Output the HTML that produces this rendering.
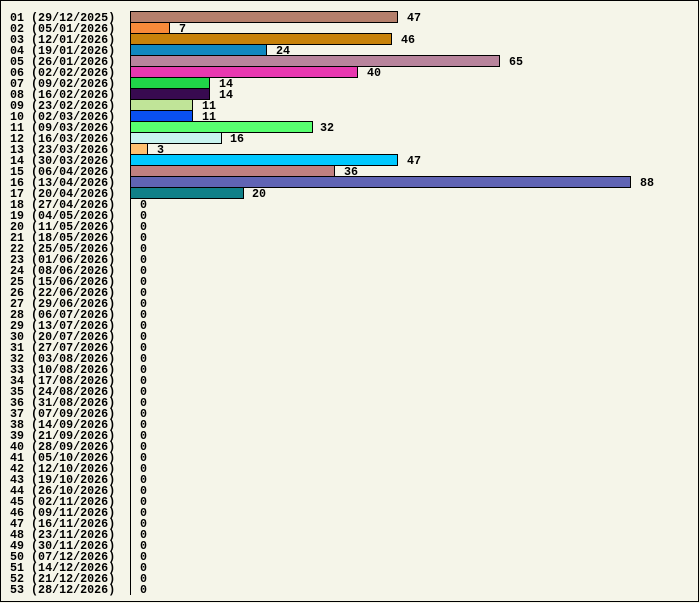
<!DOCTYPE html>
<html><head><meta charset="utf-8"><style>
html,body{margin:0;padding:0;background:#f5f5e9;}
svg{display:block;}
text{font-family:"Liberation Mono",monospace;font-weight:bold;font-size:11.7px;fill:#000;}
</style></head><body>
<svg width="700" height="603" viewBox="0 0 700 603" xmlns="http://www.w3.org/2000/svg">
<rect x="0.5" y="0.5" width="698" height="601" fill="#f5f5e9" stroke="#000" stroke-width="1"/>
<line x1="130.5" y1="11" x2="130.5" y2="595" stroke="#000" stroke-width="1"/>
<g stroke="#000" stroke-width="1">
<rect x="130.5" y="11.5" width="267" height="11" fill="#b5806c"/>
<rect x="130.5" y="22.5" width="39" height="11" fill="#f88a3a"/>
<rect x="130.5" y="33.5" width="261" height="11" fill="#c8820a"/>
<rect x="130.5" y="44.5" width="136" height="11" fill="#1088c0"/>
<rect x="130.5" y="55.5" width="369" height="11" fill="#b8849c"/>
<rect x="130.5" y="66.5" width="227" height="11" fill="#e838b0"/>
<rect x="130.5" y="77.5" width="79" height="11" fill="#20d448"/>
<rect x="130.5" y="88.5" width="79" height="11" fill="#380a50"/>
<rect x="130.5" y="99.5" width="62" height="11" fill="#c0e498"/>
<rect x="130.5" y="110.5" width="62" height="11" fill="#0a50f0"/>
<rect x="130.5" y="121.5" width="182" height="11" fill="#58ff70"/>
<rect x="130.5" y="132.5" width="91" height="11" fill="#c8f4f0"/>
<rect x="130.5" y="143.5" width="17" height="11" fill="#ffc070"/>
<rect x="130.5" y="154.5" width="267" height="11" fill="#00c8ff"/>
<rect x="130.5" y="165.5" width="204" height="11" fill="#c08080"/>
<rect x="130.5" y="176.5" width="500" height="11" fill="#6064b4"/>
<rect x="130.5" y="187.5" width="113" height="11" fill="#108088"/>
</g>
<g>
<text x="10" y="21">01 (29/12/2025)</text>
<text x="10" y="32">02 (05/01/2026)</text>
<text x="10" y="43">03 (12/01/2026)</text>
<text x="10" y="54">04 (19/01/2026)</text>
<text x="10" y="65">05 (26/01/2026)</text>
<text x="10" y="76">06 (02/02/2026)</text>
<text x="10" y="87">07 (09/02/2026)</text>
<text x="10" y="98">08 (16/02/2026)</text>
<text x="10" y="109">09 (23/02/2026)</text>
<text x="10" y="120">10 (02/03/2026)</text>
<text x="10" y="131">11 (09/03/2026)</text>
<text x="10" y="142">12 (16/03/2026)</text>
<text x="10" y="153">13 (23/03/2026)</text>
<text x="10" y="164">14 (30/03/2026)</text>
<text x="10" y="175">15 (06/04/2026)</text>
<text x="10" y="186">16 (13/04/2026)</text>
<text x="10" y="197">17 (20/04/2026)</text>
<text x="10" y="208">18 (27/04/2026)</text>
<text x="10" y="219">19 (04/05/2026)</text>
<text x="10" y="230">20 (11/05/2026)</text>
<text x="10" y="241">21 (18/05/2026)</text>
<text x="10" y="252">22 (25/05/2026)</text>
<text x="10" y="263">23 (01/06/2026)</text>
<text x="10" y="274">24 (08/06/2026)</text>
<text x="10" y="285">25 (15/06/2026)</text>
<text x="10" y="296">26 (22/06/2026)</text>
<text x="10" y="307">27 (29/06/2026)</text>
<text x="10" y="318">28 (06/07/2026)</text>
<text x="10" y="329">29 (13/07/2026)</text>
<text x="10" y="340">30 (20/07/2026)</text>
<text x="10" y="351">31 (27/07/2026)</text>
<text x="10" y="362">32 (03/08/2026)</text>
<text x="10" y="373">33 (10/08/2026)</text>
<text x="10" y="384">34 (17/08/2026)</text>
<text x="10" y="395">35 (24/08/2026)</text>
<text x="10" y="406">36 (31/08/2026)</text>
<text x="10" y="417">37 (07/09/2026)</text>
<text x="10" y="428">38 (14/09/2026)</text>
<text x="10" y="439">39 (21/09/2026)</text>
<text x="10" y="450">40 (28/09/2026)</text>
<text x="10" y="461">41 (05/10/2026)</text>
<text x="10" y="472">42 (12/10/2026)</text>
<text x="10" y="483">43 (19/10/2026)</text>
<text x="10" y="494">44 (26/10/2026)</text>
<text x="10" y="505">45 (02/11/2026)</text>
<text x="10" y="516">46 (09/11/2026)</text>
<text x="10" y="527">47 (16/11/2026)</text>
<text x="10" y="538">48 (23/11/2026)</text>
<text x="10" y="549">49 (30/11/2026)</text>
<text x="10" y="560">50 (07/12/2026)</text>
<text x="10" y="571">51 (14/12/2026)</text>
<text x="10" y="582">52 (21/12/2026)</text>
<text x="10" y="593">53 (28/12/2026)</text>
</g>
<g>
<text x="407" y="21">47</text>
<text x="179" y="32">7</text>
<text x="401" y="43">46</text>
<text x="276" y="54">24</text>
<text x="509" y="65">65</text>
<text x="367" y="76">40</text>
<text x="219" y="87">14</text>
<text x="219" y="98">14</text>
<text x="202" y="109">11</text>
<text x="202" y="120">11</text>
<text x="320" y="131">32</text>
<text x="230" y="142">16</text>
<text x="157" y="153">3</text>
<text x="407" y="164">47</text>
<text x="344" y="175">36</text>
<text x="640" y="186">88</text>
<text x="252" y="197">20</text>
<text x="140" y="208">0</text>
<text x="140" y="219">0</text>
<text x="140" y="230">0</text>
<text x="140" y="241">0</text>
<text x="140" y="252">0</text>
<text x="140" y="263">0</text>
<text x="140" y="274">0</text>
<text x="140" y="285">0</text>
<text x="140" y="296">0</text>
<text x="140" y="307">0</text>
<text x="140" y="318">0</text>
<text x="140" y="329">0</text>
<text x="140" y="340">0</text>
<text x="140" y="351">0</text>
<text x="140" y="362">0</text>
<text x="140" y="373">0</text>
<text x="140" y="384">0</text>
<text x="140" y="395">0</text>
<text x="140" y="406">0</text>
<text x="140" y="417">0</text>
<text x="140" y="428">0</text>
<text x="140" y="439">0</text>
<text x="140" y="450">0</text>
<text x="140" y="461">0</text>
<text x="140" y="472">0</text>
<text x="140" y="483">0</text>
<text x="140" y="494">0</text>
<text x="140" y="505">0</text>
<text x="140" y="516">0</text>
<text x="140" y="527">0</text>
<text x="140" y="538">0</text>
<text x="140" y="549">0</text>
<text x="140" y="560">0</text>
<text x="140" y="571">0</text>
<text x="140" y="582">0</text>
<text x="140" y="593">0</text>
</g>
</svg>
</body></html>
